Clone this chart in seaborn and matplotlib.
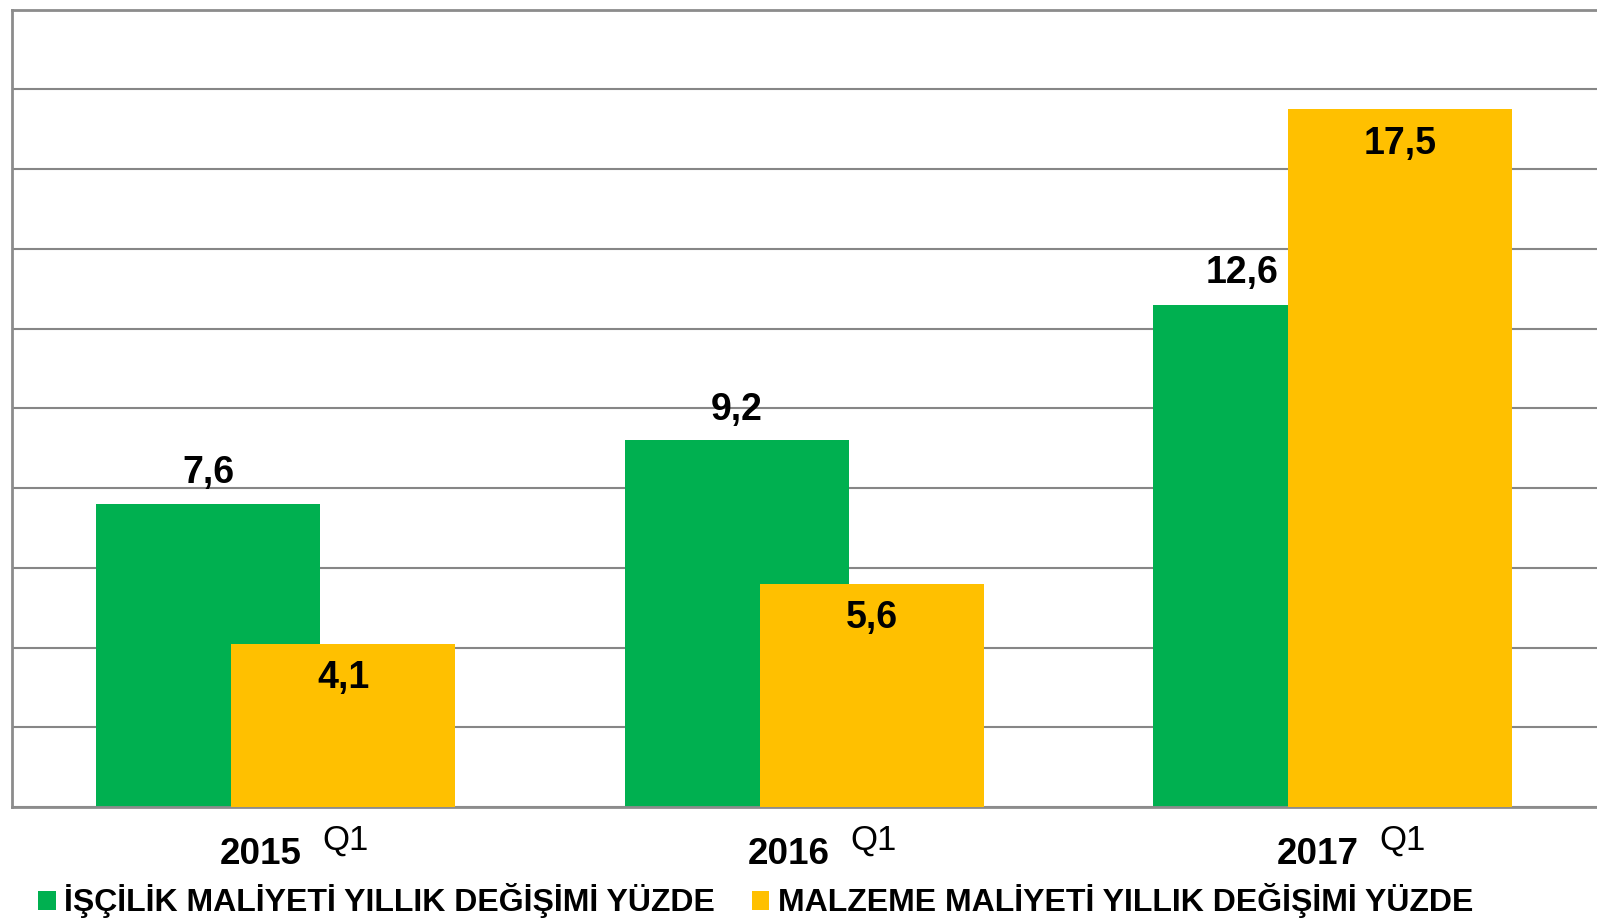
import numpy as np
import pandas as pd
import matplotlib
matplotlib.use("Agg")
import matplotlib.pyplot as plt
import seaborn as sns
from matplotlib.patches import Patch

years = ["2015", "2016", "2017"]
quarter = "Q1"
labour = [7.6, 9.2, 12.6]
material = [4.1, 5.6, 17.5]
series_names = ["İŞÇİLİK MALİYETİ YILLIK DEĞİŞİMİ YÜZDE",
                "MALZEME MALİYETİ YILLIK DEĞİŞİMİ YÜZDE"]
colors = ["#00B050", "#FFC000"]

sns.set_theme(style="white")
plt.rcParams['font.family'] = ['Liberation Sans', 'DejaVu Sans']

fig = plt.figure(figsize=(15.97, 9.19), dpi=100)
ax = fig.add_axes([11.5 / 1597, 1 - 807 / 919, 1 - 11.5 / 1597, (807 - 9.5) / 919])

idx = np.arange(len(years))
offset = 0.128
width = 0.424
df_l = pd.DataFrame({"pos": idx - offset, "val": labour})
df_m = pd.DataFrame({"pos": idx + offset, "val": material})

sns.barplot(data=df_l, x="pos", y="val", native_scale=True, width=width,
            color=colors[0], saturation=1, ax=ax, zorder=2, linewidth=0)
sns.barplot(data=df_m, x="pos", y="val", native_scale=True, width=width,
            color=colors[1], saturation=1, ax=ax, zorder=3, linewidth=0)

ax.set_xlim(-0.5, 2.5)
ax.set_ylim(0, 20)
ax.set_yticks(np.arange(0, 21, 2))
ax.set_yticklabels([])
ax.set_xticks([])
ax.set_xlabel("")
ax.set_ylabel("")
ax.tick_params(length=0)
ax.grid(axis="y", color="#868686", linewidth=1.5, zorder=0)
ax.set_axisbelow(True)
for side in ["left", "bottom", "top"]:
    ax.spines[side].set_color("#8c8c8c")
    ax.spines[side].set_linewidth(2.0)
ax.spines["right"].set_visible(False)

def fmt(v):
    return f"{v:.1f}".replace(".", ",")

for i in idx:
    if material[i] > labour[i] + 2:
        # keep the label clear of the taller overlapping bar
        ax.annotate(fmt(labour[i]), xy=(i + offset - width / 2, labour[i]),
                    xytext=(-7, 23), textcoords="offset points", ha="right",
                    va="center", fontsize=27, fontweight="bold",
                    color="black", zorder=5)
    else:
        ax.annotate(fmt(labour[i]), xy=(i - offset, labour[i]), xytext=(0, 22),
                    textcoords="offset points", ha="center", va="center",
                    fontsize=27, fontweight="bold", color="black", zorder=5)
    ax.annotate(fmt(material[i]), xy=(i + offset, material[i]), xytext=(0, -25),
                textcoords="offset points", ha="center", va="center",
                fontsize=27, fontweight="bold", color="black", zorder=5)
    ax.annotate(years[i], xy=(i, 0), xycoords=("data", "axes fraction"),
                xytext=(-11, -34), textcoords="offset points",
                ha="center", va="center", fontsize=26.5, fontweight="bold",
                color="black", annotation_clip=False)
    ax.annotate(quarter, xy=(i, 0), xycoords=("data", "axes fraction"),
                xytext=(50, -24), textcoords="offset points",
                ha="center", va="center", fontsize=25, color="black",
                annotation_clip=False)

handles = [Patch(facecolor=c, edgecolor="none") for c in colors]
leg = fig.legend(handles, series_names, loc="center left",
                 bbox_to_anchor=(38 / 1597, 1 - 901 / 919), ncol=2,
                 frameon=False, borderpad=0, borderaxespad=0,
                 handlelength=0.55, handleheight=0.55, handletextpad=0.27,
                 columnspacing=1.15, prop={"size": 23, "weight": "bold"})
for t in leg.get_texts():
    t.set_color("black")

fig.savefig("out.png", dpi=100)
